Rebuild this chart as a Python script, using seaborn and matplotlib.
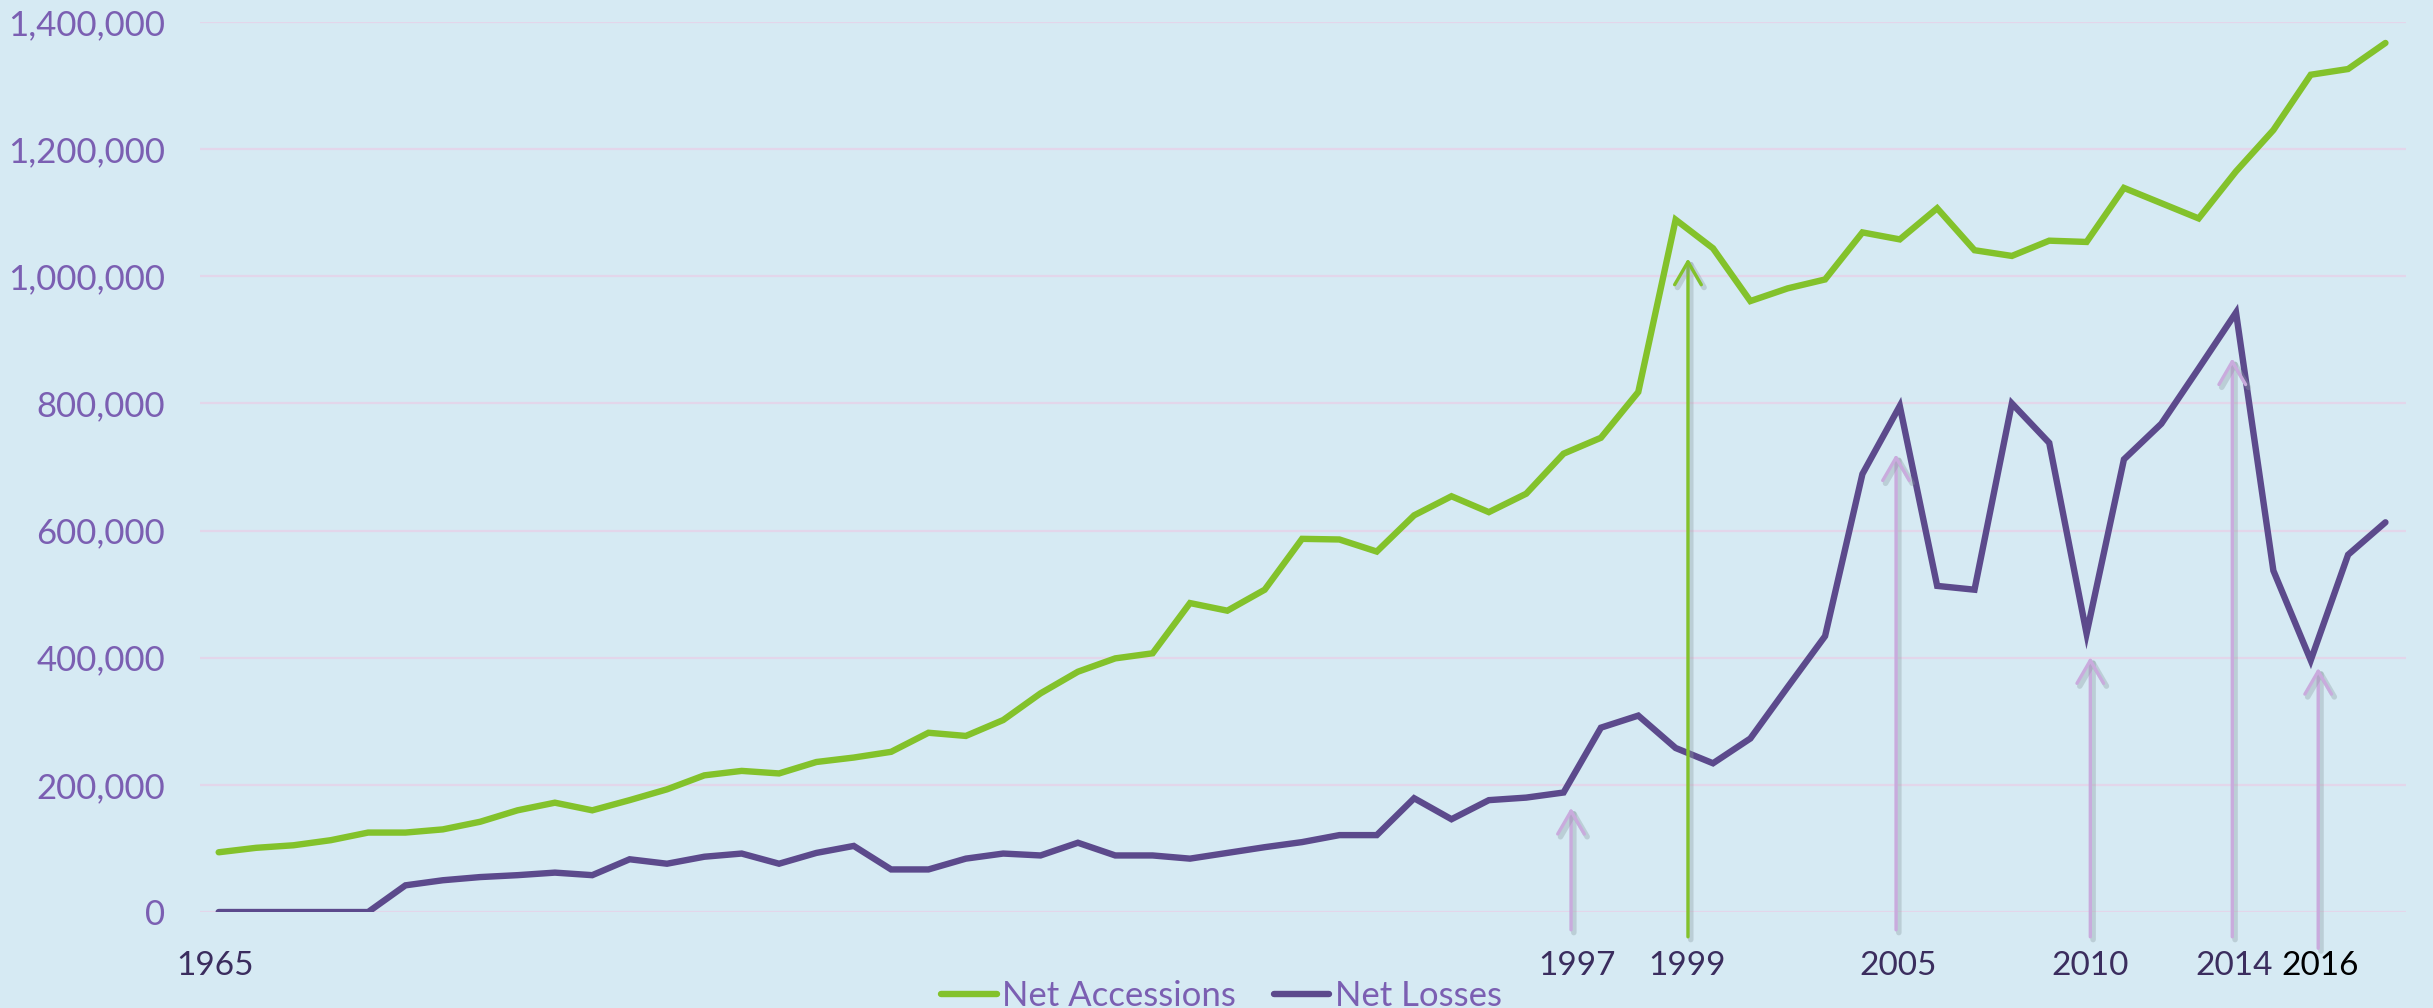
import pandas as pd
import numpy as np
import matplotlib.pyplot as plt
import seaborn as sns
from matplotlib.ticker import FuncFormatter
import matplotlib.patheffects as pe

# data, one value per year
years = list(range(1960, 2019))
net_accessions = [94000, 101000, 105000, 113000, 125000, 125000, 130000, 142000, 160000, 172000,
                  160000, 176000, 193000, 215000, 222000, 218000, 236000, 243000, 252000, 282000,
                  277000, 302000, 344000, 378000, 399000, 407000, 486000, 474000, 507000, 587000,
                  586000, 567000, 624000, 654000, 629000, 658000, 721000, 746000, 818000, 1089000,
                  1044000, 961000, 981000, 995000, 1069000, 1058000, 1107000, 1041000, 1032000, 1056000,
                  1054000, 1139000, 1115000, 1091000, 1165000, 1230000, 1317000, 1326000, 1367000]
net_losses = [0, 0, 0, 0, 0, 42000, 50000, 55000, 58000, 62000,
              58000, 83000, 76000, 87000, 92000, 76000, 93000, 104000, 67000, 67000,
              84000, 92000, 89000, 109000, 89000, 89000, 84000, 93000, 102000, 110000,
              121000, 121000, 179000, 146000, 176000, 180000, 188000, 290000, 309000, 258000,
              234000, 273000, 354000, 434000, 689000, 796000, 513000, 507000, 800000, 738000,
              438000, 712000, 768000, 855000, 943000, 537000, 396000, 562000, 613000]

# x labels as they sit under the chart
label_text = ['1965', '1997', '1999', '2005', '2010', '2014', '2016']
label_pos = [1959.9, 1996.35, 1999.3, 2004.95, 2010.1, 2013.95, 2016.25]

# arrows (year, tip value, base value)
arrow_year = [1996.2, 1999.33, 2004.9, 2010.1, 2013.9, 2016.2]
arrow_tip = [164000, 1028000, 720000, 401000, 871000, 384000]
arrow_base = [-28000, -39000, -28000, -39000, -39000, -57000]

bg = '#D6EAF3'
green = '#83C22B'
purple = '#5C4A8C'
lilac = '#C9ABDD'
label_purple = '#7B5FB2'

plt.rcParams['font.family'] = ['Lato', 'DejaVu Sans']

df = pd.DataFrame({'Year': years, 'Net Accessions': net_accessions, 'Net Losses': net_losses})

fig = plt.figure(figsize=(24.33, 10.08), dpi=100, facecolor=bg)
ax = fig.add_axes([0.0822, 0.0952, 0.9067, 0.8830])
ax.set_facecolor(bg)

sns.lineplot(data=df, x='Year', y='Net Losses', color=purple, linewidth=4.6, label='Net Losses', ax=ax)
sns.lineplot(data=df, x='Year', y='Net Accessions', color=green, linewidth=4.6, label='Net Accessions', ax=ax)
for ln in ax.lines:
    ln.set_solid_capstyle('round')
    ln.set_solid_joinstyle('miter')

ax.set_xlim(1959.5, 2018.55)
ax.set_ylim(0, 1400000)
ax.set_yticks(np.arange(0, 1400001, 200000))
ax.yaxis.set_major_formatter(FuncFormatter(lambda v, p: '{:,.0f}'.format(v)))
ax.grid(axis='y', color='#E3D6EA', linewidth=1.6)
ax.grid(axis='x', visible=False)
ax.set_axisbelow(True)
for s in ax.spines.values():
    s.set_visible(False)
ax.tick_params(axis='y', length=0, pad=25, labelsize=25, labelcolor=label_purple)

ax.set_xticks(label_pos)
ax.set_xticklabels(label_text)
ax.tick_params(axis='x', length=0, pad=28, labelsize=24, labelcolor='#3B2D5E')
ax.get_xticklabels()[-1].set_color('black')
ax.set_xlabel('')
ax.set_ylabel('')

# soft shadow under the arrows, drawn as an offset stroke (no fill)
shadow = [pe.Stroke(offset=(2, -2), linewidth=4, foreground='#8b9ba2', alpha=0.35), pe.Normal()]
for x, tip, base in zip(arrow_year, arrow_tip, arrow_base):
    c = green if tip > 1000000 else lilac
    ann = ax.annotate('', xy=(x, tip), xytext=(x, base), annotation_clip=False,
                      arrowprops=dict(arrowstyle='->,head_length=0.55,head_width=0.32', color=c, lw=2.4,
                                      mutation_scale=30, shrinkA=0, shrinkB=0))
    ann.arrow_patch.set_path_effects(shadow)

handles = {ln.get_label(): ln for ln in ax.lines}
ax.legend(handles=[handles['Net Accessions'], handles['Net Losses']], labels=['Net Accessions', 'Net Losses'],
          loc='center', bbox_to_anchor=(0.502, 0.012), bbox_transform=fig.transFigure,
          ncol=2, frameon=False, fontsize=25, labelcolor=label_purple,
          handlelength=1.6, handletextpad=0.15, columnspacing=1.1, borderpad=0)

fig.savefig('out.png', dpi=100, facecolor=bg)
